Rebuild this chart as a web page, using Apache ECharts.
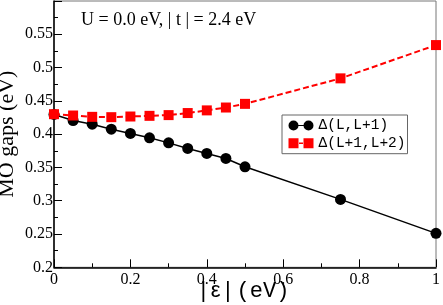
<!DOCTYPE html>
<html>
<head>
<meta charset="utf-8">
<script src="https://cdn.jsdelivr.net/npm/echarts@6/dist/echarts.min.js"></script>
<style>html,body{margin:0;padding:0;background:#fff}#c{width:443px;height:305px}</style>
</head>
<body>
<div id="c"></div>
<script>
const eps = [0, 0.05, 0.1, 0.15, 0.2, 0.25, 0.3, 0.35, 0.4, 0.45, 0.5, 0.75, 1.0];
const gapL_L1 = [0.4296, 0.4205, 0.415, 0.4075, 0.401, 0.3945, 0.3869, 0.3785, 0.371, 0.3635, 0.351, 0.302, 0.251];
const gapL1_L2 = [0.430, 0.428, 0.426, 0.4255, 0.4265, 0.4275, 0.4286, 0.4317, 0.4357, 0.440, 0.4455, 0.4838, 0.5338];
const seriesNames = ['\u0394(L,L+1)', '\u0394(L+1,L+2)'];
const xTickLabels = {0: '0', 0.2: '0.2', 0.4: '0.4', 0.6: '0.6', 0.8: '0.8', 1: '1'};
const yTickLabels = {0.2: '0.2', 0.25: '0.25', 0.3: '0.3', 0.35: '0.35', 0.4: '0.4', 0.45: '0.45', 0.5: '0.5', 0.55: '0.55', 0.6: ''};
const titleText = 'U = 0.0 eV, | t | = 2.4 eV';

function key(v) { return Math.round(v * 1000) / 1000; }

const chart = echarts.init(document.getElementById('c'), null, {renderer: 'canvas'});
const serif = 'Liberation Serif';
const mono = 'Liberation Mono';

chart.setOption({
  animation: false,
  backgroundColor: '#fff',
  textStyle: {fontFamily: serif},
  title: {
    text: titleText,
    left: 81, top: 11, padding: 0,
    textStyle: {fontFamily: serif, fontSize: 18, fontWeight: 'normal', color: '#000'}
  },
  grid: {left: 54, right: 7, top: 1, bottom: 37.7, containLabel: false, outerBoundsMode: 'none', show: true, borderColor: '#777', borderWidth: 1, backgroundColor: 'transparent'},
  legend: {
    orient: 'vertical',
    left: 282, top: 115,
    padding: [3, 2, 3, 6.5],
    itemGap: 2.7,
    itemWidth: 25, itemHeight: 10,
    backgroundColor: '#fff',
    borderColor: '#666', borderWidth: 1,
    borderRadius: 0,
    textStyle: {fontFamily: mono, fontSize: 14.5, color: '#000', lineHeight: 15},
    itemStyle: {borderWidth: 0},
    data: [
      {name: seriesNames[0], icon: 'path://M0,5A5,5 0 1,1 10,5A5,5 0 1,1 0,5Z M15,5A5,5 0 1,1 25,5A5,5 0 1,1 15,5Z M9,4.4L16,4.4L16,5.6L9,5.6Z'},
      {name: seriesNames[1], icon: 'path://M0,0L10,0L10,10L0,10Z M15,0L25,0L25,10L15,10Z M10.5,4.2L14.5,4.2L14.5,5.8L10.5,5.8Z'}
    ]
  },
  xAxis: {
    type: 'value', min: 0, max: 1, interval: 0.2,
    name: '{a||\u2009\u03b5\u2009|}{b|(eV)}',
    nameLocation: 'middle', nameGap: 12, nameMoveOverlap: false,
    nameTextStyle: {
      rich: {
        a: {fontFamily: 'Liberation Sans', fontSize: 22, color: '#000', lineHeight: 24},
        b: {fontFamily: mono, fontSize: 22, color: '#000', lineHeight: 24, padding: [0, 0, 0, 6]}
      }
    },
    axisLine: {show: true, lineStyle: {color: '#000', width: 1.5}},
    axisTick: {show: true, inside: true, length: 8, lineStyle: {color: '#000', width: 1}},
    minorTick: {show: true, splitNumber: 2, length: 4, lineStyle: {color: '#000', width: 1}},
    splitLine: {show: false},
    axisLabel: {
      fontFamily: serif, fontSize: 16, color: '#000', margin: 4,
      formatter: v => xTickLabels[key(v)] !== undefined ? xTickLabels[key(v)] : ''
    }
  },
  yAxis: {
    type: 'value', min: 0.2, max: 0.6, interval: 0.05,
    name: 'MO gaps (eV)',
    nameLocation: 'middle', nameGap: 36, nameMoveOverlap: false,
    nameTextStyle: {fontFamily: serif, fontSize: 22, color: '#000'},
    axisLine: {show: true, lineStyle: {color: '#000', width: 1.5}},
    axisTick: {show: true, inside: true, length: 8, lineStyle: {color: '#000', width: 1}},
    minorTick: {show: true, splitNumber: 2, length: 4, lineStyle: {color: '#000', width: 1}},
    splitLine: {show: false},
    axisLabel: {
      fontFamily: serif, fontSize: 16, color: '#000', margin: 1,
      formatter: v => yTickLabels[key(v)] !== undefined ? yTickLabels[key(v)] : ''
    }
  },
  series: [
    {
      name: seriesNames[0], type: 'line', clip: false,
      data: eps.map((x, i) => [x, gapL_L1[i]]),
      symbol: 'circle', symbolSize: 11,
      itemStyle: {color: '#000'},
      lineStyle: {color: '#000', width: 1.5},
      z: 2
    },
    {
      name: seriesNames[1], type: 'line', clip: false,
      data: eps.map((x, i) => [x, gapL1_L2[i]]),
      symbol: 'rect', symbolSize: 10,
      itemStyle: {color: '#ff0000'},
      lineStyle: {color: '#ff0000', width: 2, type: [6, 3]},
      z: 3
    }
  ]
});
</script>
</body>
</html>
